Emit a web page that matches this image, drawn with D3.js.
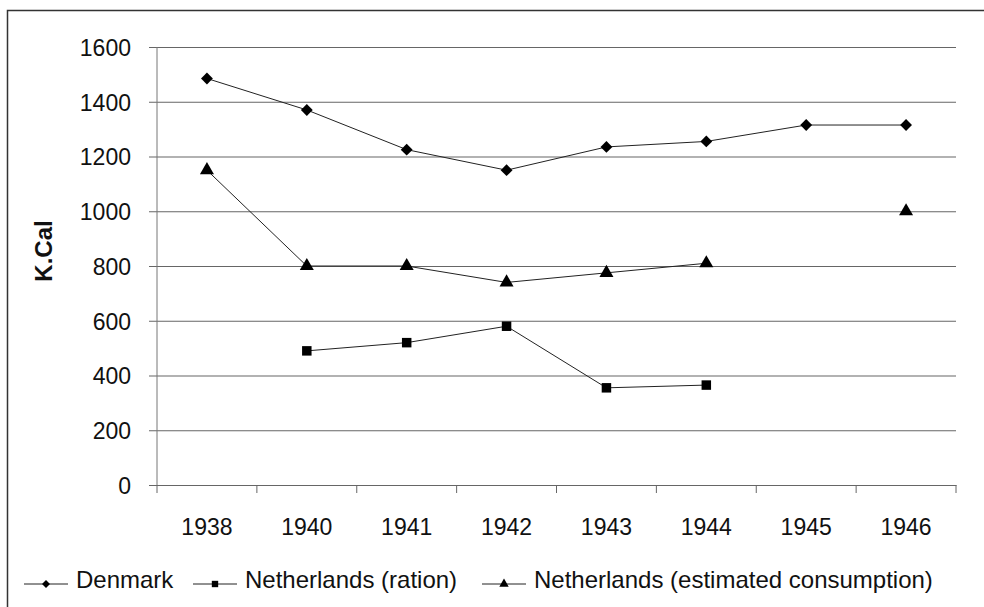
<!DOCTYPE html>
<html>
<head>
<meta charset="utf-8">
<script src="https://cdn.jsdelivr.net/npm/d3@7"></script>
<style>
  body { margin: 0; background: #fff; }
  svg { display: block; font-family: Arial, "Liberation Sans", sans-serif; }
</style>
</head>
<body>
<div id="chart"></div>
<script>
const years = ["1938", "1940", "1941", "1942", "1943", "1944", "1945", "1946"];
const denmark = [1485, 1370, 1225, 1150, 1235, 1255, 1315, 1315];
const nlRation = [null, 490, 520, 580, 355, 365, null, null];
const nlEstimated = [1150, 800, 800, 740, 775, 810, null, 1000];
const yTicks = [0, 200, 400, 600, 800, 1000, 1200, 1400, 1600];

const width = 984, height = 607;
const plot = { left: 157, right: 956, top: 47, bottom: 485 };

const svg = d3.select("#chart").append("svg")
    .attr("width", width)
    .attr("height", height);

// outer frame, runs off the right and bottom edges like the scan
svg.append("rect")
    .attr("x", 7.5).attr("y", 10.5)
    .attr("width", 1000).attr("height", 700)
    .attr("fill", "none")
    .attr("stroke", "#333")
    .attr("stroke-width", 1.5);

const x = d3.scaleBand().domain(years).range([plot.left, plot.right]).padding(0);
const y = d3.scaleLinear().domain([0, 1600]).range([plot.bottom, plot.top]);

// gridlines + y ticks
const yAxis = svg.append("g")
    .attr("transform", `translate(${plot.left},0)`)
    .call(d3.axisLeft(y).tickValues(yTicks).tickFormat(d3.format("d"))
        .tickSize(-(plot.right - plot.left)).tickPadding(26).tickSizeOuter(0));
yAxis.select(".domain").remove();
yAxis.selectAll(".tick line")
    .attr("x1", -8)
    .attr("stroke", "#666")
    .attr("stroke-width", 1.2);
yAxis.selectAll(".tick text")
    .attr("fill", "#111")
    .style("font-size", "23px")
    .attr("dy", "0.36em");

// y axis line
svg.append("line")
    .attr("x1", plot.left).attr("x2", plot.left)
    .attr("y1", plot.top).attr("y2", plot.bottom)
    .attr("stroke", "#777");

// x axis
const xAxis = svg.append("g")
    .attr("transform", `translate(0,${plot.bottom})`)
    .call(d3.axisBottom(x).tickSize(0).tickPadding(34));
xAxis.select(".domain").attr("stroke", "#666").attr("stroke-width", 1.2);
xAxis.selectAll(".tick text").attr("fill", "#111").style("font-size", "23px");
// tick marks sit on the band boundaries
const bounds = years.map(d => x(d)).concat([plot.right]);
svg.append("g").selectAll("line")
    .data(bounds)
    .enter().append("line")
    .attr("x1", d => d).attr("x2", d => d)
    .attr("y1", plot.bottom).attr("y2", plot.bottom + 8)
    .attr("stroke", "#666");

svg.append("text")
    .attr("transform", `translate(52,251) rotate(-90)`)
    .attr("text-anchor", "middle")
    .style("font-size", "24px")
    .style("font-weight", "bold")
    .attr("fill", "#111")
    .text("K.Cal");

const cx = (d, i) => x(years[i]) + x.bandwidth() / 2;
const line = d3.line()
    .defined(d => d != null)
    .x((d, i) => cx(d, i))
    .y(d => y(d));

// diamond = square turned 45 degrees (d3's symbolDiamond is too tall)
const series = [
    { name: "Denmark", values: denmark, symbol: d3.symbolSquare, size: 70, rot: 45 },
    { name: "Netherlands (ration)", values: nlRation, symbol: d3.symbolSquare, size: 90, rot: 0 },
    { name: "Netherlands (estimated consumption)", values: nlEstimated, symbol: d3.symbolTriangle, size: 85, rot: 0 }
];

series.forEach(s => {
    svg.append("path")
        .datum(s.values)
        .attr("fill", "none")
        .attr("stroke", "#222")
        .attr("stroke-width", 1)
        .attr("d", line);
    svg.append("g").selectAll("path")
        .data(s.values.map((v, i) => ({ v, i })).filter(d => d.v != null))
        .enter().append("path")
        .attr("transform", d => `translate(${cx(d.v, d.i)},${y(d.v)}) rotate(${s.rot})`)
        .attr("d", d3.symbol().type(s.symbol).size(s.size))
        .attr("fill", "#000");
});

// legend
const legendX = [24, 193, 482];
const legend = svg.append("g");
series.forEach((s, i) => {
    const g = legend.append("g").attr("transform", `translate(${legendX[i]},584)`);
    g.append("line").attr("x1", 0).attr("x2", 44).attr("stroke", "#222");
    g.append("path")
        .attr("transform", `translate(22,0) rotate(${s.rot})`)
        .attr("d", d3.symbol().type(s.symbol).size(s.size * 0.45))
        .attr("fill", "#000");
    g.append("text")
        .attr("x", 52).attr("y", 4)
        .style("font-size", "24px")
        .attr("fill", "#111")
        .text(s.name);
});
</script>
</body>
</html>
